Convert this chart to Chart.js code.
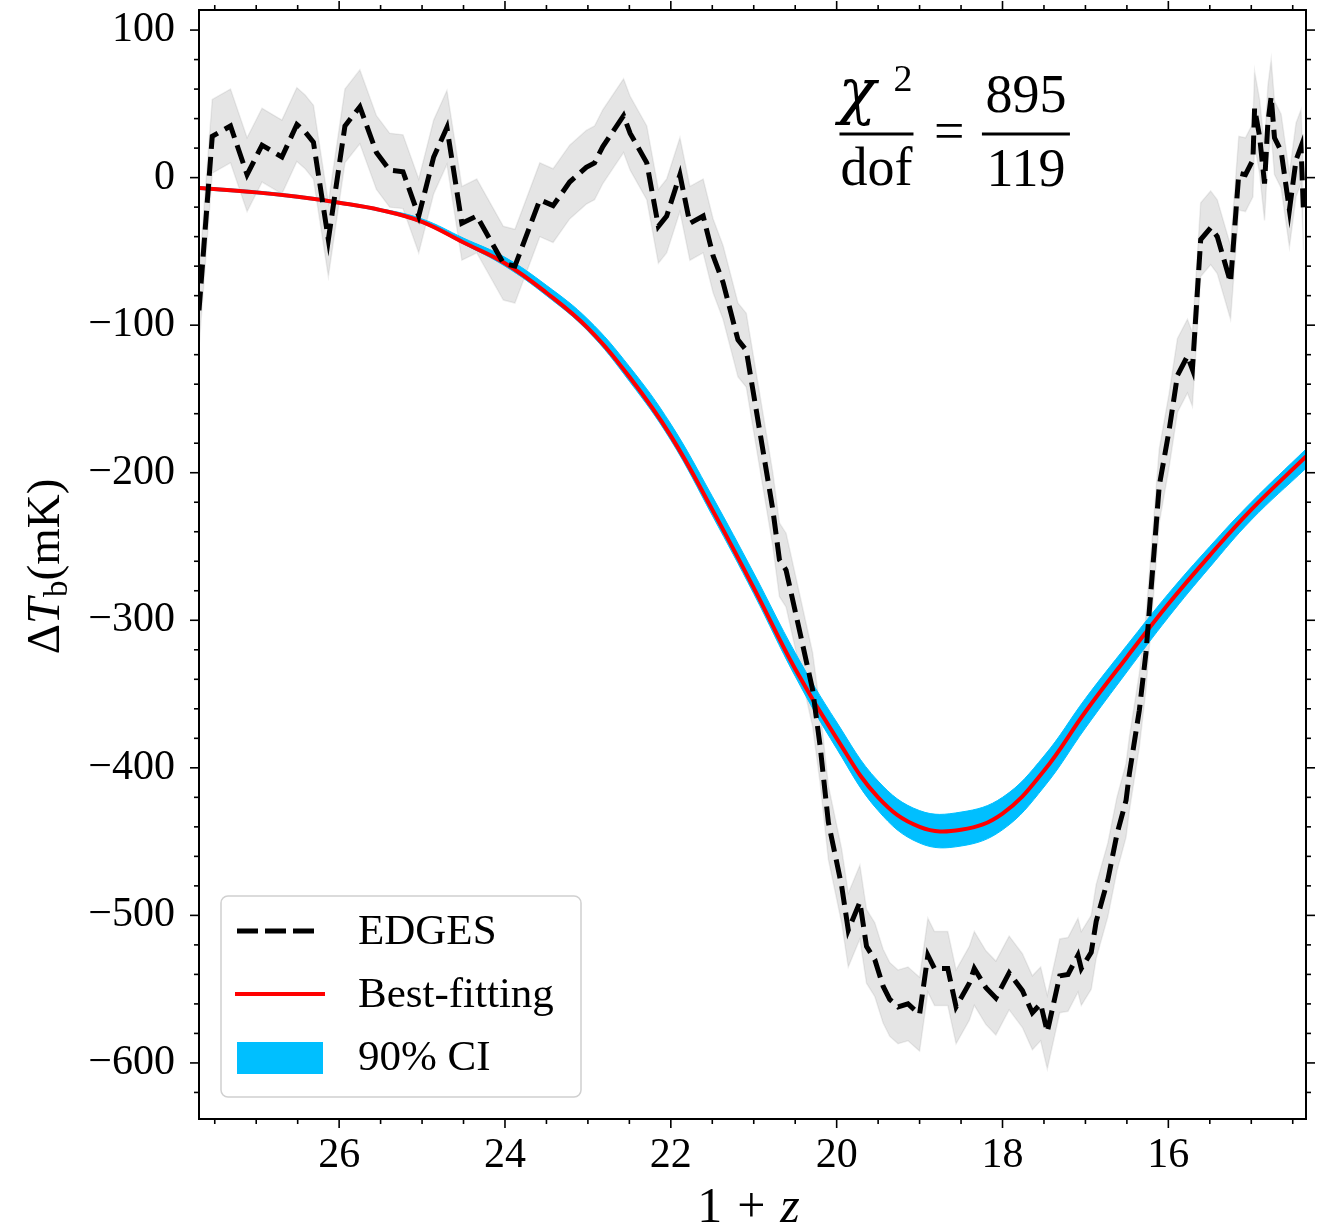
<!DOCTYPE html>
<html>
<head>
<meta charset="utf-8">
<script src="https://cdn.jsdelivr.net/npm/chart.js@4/dist/chart.umd.min.js"></script>
<style>
  html, body { margin: 0; padding: 0; background: #fff; }
  canvas { display: block; }
</style>
</head>
<body>
<canvas id="chart" width="1322" height="1228"></canvas>
<script>
// EDGES brightness-temperature profile (1+z, mK)
const edgesZ = [
  27.69, 27.53, 27.31, 27.11, 26.93, 26.69, 26.51, 26.41, 26.31, 26.13,
  25.93, 25.75, 25.55, 25.39, 25.23, 25.04, 24.86, 24.70, 24.52, 24.34,
  24.02, 23.88, 23.58, 23.42, 23.22, 23.02, 22.92, 22.82, 22.57, 22.49,
  22.29, 22.15, 22.05, 21.89, 21.77, 21.61, 21.49, 21.37, 21.19, 21.09,
  20.77, 20.69, 20.61, 20.29, 20.20, 20.10, 19.94, 19.86, 19.72, 19.64,
  19.54, 19.44, 19.36, 19.26, 19.14, 19.00, 18.90, 18.82, 18.66, 18.56,
  18.40, 18.34, 18.20, 18.08, 17.92, 17.76, 17.64, 17.54, 17.46, 17.31,
  17.21, 17.09, 17.05, 16.93, 16.87, 16.73, 16.62, 16.51, 16.47, 16.35,
  16.27, 16.17, 16.11, 15.99, 15.89, 15.77, 15.71, 15.61, 15.49, 15.41,
  15.25, 15.15, 15.07, 14.98, 14.96, 14.90, 14.84, 14.80, 14.76, 14.72,
  14.64, 14.54, 14.46, 14.40, 14.37
];
const edgesT = [
  -90, 28, 35, 2, 22, 14, 36, 31, 24, -42,
  35, 48, 17, 5, 4, -26, 14, 34, -31, -26,
  -58, -60, -15, -19, -3, 7, 10, 21, 42, 30,
  10, -33, -26, 2, -31, -26, -53, -71, -110, -117,
  -225, -259, -266, -347, -385, -437, -480, -510, -491, -521,
  -530, -548, -557, -562, -560, -567, -527, -536, -536, -562,
  -546, -536, -549, -556, -539, -551, -566, -560, -579, -541,
  -540, -527, -536, -525, -504, -476, -445, -422, -404, -361,
  -322, -252, -209, -171, -134, -121, -130, -42, -34, -40,
  -71, 3, 2, 12, 47, 28, -4, 37, 55, 27,
  18, -22, 12, 21, -24
];
const edgesErr = 25;

// best-fitting model and its 90% credible interval
const fitZ = [
  27.69, 27.0, 26.5, 26.0, 25.5, 25.0, 24.5, 24.0, 23.5, 23.0,
  22.5, 22.0, 21.5, 21.0, 20.5, 20.0, 19.5, 19.0, 18.5,
  18.0, 17.5, 17.0, 16.5, 16.0, 15.5, 15.0, 14.34
];
const fitT = [
  -7, -10, -13, -17, -22, -30, -44, -58, -78, -102,
  -135, -175, -225, -278, -333, -380, -420, -440, -442,
  -431, -402, -362, -325, -289, -256, -225, -189
];
const ciHigh = [
  -6, -9, -12, -16, -21, -28, -41, -54, -73, -96,
  -128, -167, -216, -268, -322, -369, -409, -429, -430,
  -420, -392, -353, -317, -282, -250, -220, -184
];
const ciLow = [
  -8, -11, -14, -18, -23, -31, -45, -60, -80, -104,
  -138, -178, -229, -282, -338, -387, -429, -451, -453,
  -442, -413, -373, -335, -298, -264, -232, -197
];

const xTicks = [26, 24, 22, 20, 18, 16];
const yTicks = [100, 0, -100, -200, -300, -400, -500, -600];
const xRange = [14.34, 27.69];
const yRange = [-638, 113.6];
const legendLabels = ['EDGES', 'Best-fitting', '90% CI'];
const chi2 = '895';
const dof = '119';

const SERIF = "'Liberation Serif', 'Times New Roman', serif";
Chart.defaults.font.family = SERIF;

const pts = (xs, ys) => xs.map((v, i) => ({ x: v, y: ys[i] }));
const minus = v => (v < 0 ? '\u2212' + Math.abs(v) : String(v));

// frame, minor ticks, axis titles, legend and the chi^2 note
const decor = {
  id: 'decor',
  afterDraw(chart) {
    const { ctx, chartArea: a, scales: { x, y } } = chart;
    ctx.save();
    ctx.strokeStyle = '#000';
    ctx.lineWidth = 1.6;
    const tick = (px, py, dx, dy) => {
      ctx.beginPath(); ctx.moveTo(px, py); ctx.lineTo(px + dx, py + dy); ctx.stroke();
    };
    for (let k = 29; k <= 55; k++) {
      const px = x.getPixelForValue(k / 2);
      const len = k % 4 === 0 ? 9 : 5;
      tick(px, a.bottom, 0, len);
      tick(px, a.top, 0, -len);
    }
    for (let k = -31; k <= 5; k++) {
      const py = y.getPixelForValue(k * 20);
      const len = k % 5 === 0 ? 9 : 5;
      tick(a.left, py, -len, 0);
      tick(a.right, py, len, 0);
    }
    ctx.lineWidth = 2;
    ctx.strokeRect(a.left, a.top, a.width, a.height);

    // axis titles
    ctx.fillStyle = '#000';
    ctx.textBaseline = 'alphabetic';
    ctx.textAlign = 'left';
    const runs = (parts, x0, y0) => {
      let cx = x0;
      parts.forEach(p => {
        ctx.font = p.f;
        ctx.fillText(p.t, cx, y0 + (p.dy || 0));
        cx += ctx.measureText(p.t).width + (p.gap || 0);
      });
    };
    const width = parts => parts.reduce((s, p) => { ctx.font = p.f; return s + ctx.measureText(p.t).width + (p.gap || 0); }, 0);

    const xt = [
      { t: '1', f: `50px ${SERIF}`, gap: 15 },
      { t: '+', f: `50px ${SERIF}`, gap: 15 },
      { t: 'z', f: `italic 50px ${SERIF}` }
    ];
    runs(xt, (a.left + a.right) / 2 - width(xt) / 2 - 4, 1222);

    const yt = [
      { t: '\u0394', f: `47px ${SERIF}` },
      { t: 'T', f: `italic 47px ${SERIF}`, gap: 1 },
      { t: 'b', f: `33px ${SERIF}`, dy: 8 },
      { t: '(mK)', f: `47px ${SERIF}` }
    ];
    ctx.save();
    ctx.translate(59, (a.top + a.bottom) / 2 + 2);
    ctx.rotate(-Math.PI / 2);
    runs(yt, -width(yt) / 2, 0);
    ctx.restore();

    // legend
    const lx = a.left + 22, ly = a.bottom - 223, lw = 360, lh = 201;
    ctx.beginPath();
    ctx.roundRect(lx, ly, lw, lh, 7);
    ctx.fillStyle = 'rgba(255,255,255,0.85)';
    ctx.fill();
    ctx.strokeStyle = '#d0d0d0';
    ctx.lineWidth = 1.5;
    ctx.stroke();

    const ds = chart.data.datasets;
    const rows = [ly + 35, ly + 98, ly + 161];
    ctx.strokeStyle = ds[0].borderColor;
    ctx.lineWidth = ds[0].borderWidth;
    ctx.setLineDash([21, 7]);
    ctx.beginPath(); ctx.moveTo(lx + 16, rows[0]); ctx.lineTo(lx + 94, rows[0]); ctx.stroke();
    ctx.setLineDash([]);
    ctx.strokeStyle = ds[1].borderColor;
    ctx.lineWidth = ds[1].borderWidth;
    ctx.beginPath(); ctx.moveTo(lx + 14, rows[1]); ctx.lineTo(lx + 104, rows[1]); ctx.stroke();
    ctx.fillStyle = ds[2].backgroundColor;
    ctx.fillRect(lx + 16, rows[2] - 15, 86, 32);

    ctx.fillStyle = '#000';
    ctx.font = `43px ${SERIF}`;
    ctx.textBaseline = 'middle';
    legendLabels.forEach((t, i) => ctx.fillText(t, lx + 137, rows[i] + 2));

    // reduced chi-square note
    const fx = a.left + a.width * 0.612;
    const nx = a.left + a.width * 0.747;
    const by = a.top + 124;
    ctx.lineWidth = 3;
    ctx.strokeStyle = '#000';
    ctx.beginPath(); ctx.moveTo(fx - 37, by); ctx.lineTo(fx + 37, by); ctx.stroke();
    ctx.beginPath(); ctx.moveTo(nx - 44, by); ctx.lineTo(nx + 44, by); ctx.stroke();
    ctx.textBaseline = 'alphabetic';
    ctx.textAlign = 'left';
    ctx.font = "italic 62px 'DejaVu Serif', serif";
    ctx.fillText('\u03c7', fx - 38, by - 22);
    ctx.font = `38px ${SERIF}`;
    ctx.fillText('2', fx + 17, by - 43);
    ctx.textAlign = 'center';
    ctx.font = `54px ${SERIF}`;
    ctx.fillText('dof', fx, by + 51);
    ctx.fillText('=', (fx + nx) / 2 - 2, by + 15);
    ctx.fillText(chi2, nx, by - 22);
    ctx.fillText(dof, nx, by + 52);
    ctx.restore();
  }
};

new Chart(document.getElementById('chart'), {
  type: 'line',
  data: {
    datasets: [
      { label: legendLabels[0], data: pts(edgesZ, edgesT), borderColor: '#000', borderWidth: 5,
        borderDash: [19, 8], tension: 0, fill: false },
      { label: legendLabels[1], data: pts(fitZ, fitT), borderColor: '#ff0000', borderWidth: 4,
        tension: 0.4, fill: false },
      { label: legendLabels[2], data: pts(fitZ, ciHigh), borderColor: '#00bfff', borderWidth: 1,
        backgroundColor: '#00bfff', tension: 0.4, fill: { target: 3 } },
      { label: 'ci-low', data: pts(fitZ, ciLow), borderColor: '#00bfff', borderWidth: 1,
        tension: 0.4, fill: false },
      { label: 'edges-high', data: pts(edgesZ, edgesT.map(v => v + edgesErr)), borderColor: 'rgba(0,0,0,0.07)',
        borderWidth: 1.5, backgroundColor: 'rgba(0,0,0,0.1)', tension: 0, fill: { target: 5 } },
      { label: 'edges-low', data: pts(edgesZ, edgesT.map(v => v - edgesErr)), borderColor: 'rgba(0,0,0,0.07)',
        borderWidth: 1.5, tension: 0, fill: false }
    ]
  },
  options: {
    responsive: false,
    animation: false,
    layout: { padding: { top: 10, right: 16, left: 0, bottom: 0 } },
    elements: { point: { radius: 0 } },
    plugins: { legend: { display: false }, tooltip: { enabled: false } },
    scales: {
      x: {
        type: 'linear', reverse: true, min: xRange[0], max: xRange[1],
        afterBuildTicks: s => { s.ticks = xTicks.map(v => ({ value: v })); },
        afterFit: s => { s.height = 109; s.paddingLeft = 0; s.paddingRight = 0; },
        grid: { display: false, drawTicks: false }, border: { display: false },
        ticks: { color: '#000', font: { size: 42 }, padding: 12, maxRotation: 0, autoSkip: false }
      },
      y: {
        type: 'linear', min: yRange[0], max: yRange[1],
        afterBuildTicks: s => { s.ticks = yTicks.map(v => ({ value: v })); },
        afterFit: s => { s.width = 199; s.paddingTop = 0; s.paddingBottom = 0; },
        grid: { display: false, drawTicks: false }, border: { display: false },
        ticks: { color: '#000', font: { size: 42 }, padding: 24, autoSkip: false, callback: v => minus(v) }
      }
    }
  },
  plugins: [decor]
});
</script>
</body>
</html>
